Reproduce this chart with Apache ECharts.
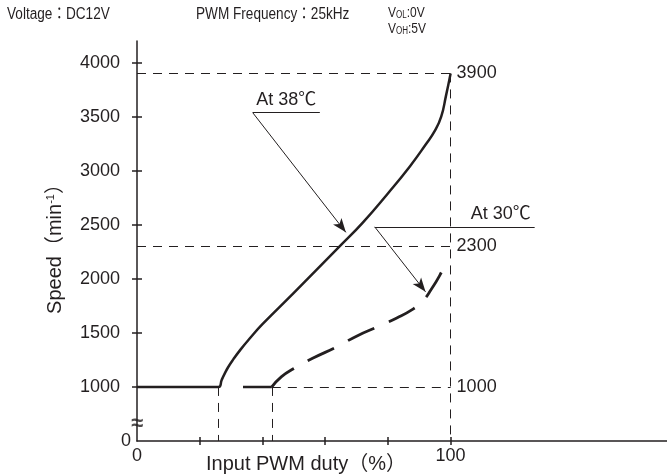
<!DOCTYPE html>
<html>
<head>
<meta charset="utf-8">
<script src="https://cdn.jsdelivr.net/npm/echarts@6/dist/echarts.min.js"></script>
<style>html,body{margin:0;padding:0;background:#fff}#c{width:667px;height:475px}</style>
</head>
<body>
<div id="c"></div>
<script>
// ---- data ----
const xTicks = [20, 40, 60, 80, 100];
const xLabels = [0, 100];
const yTicks = [1000, 1500, 2000, 2500, 3000, 3500, 4000];
const yLabelValues = [500, 1000, 1500, 2000, 2500, 3000, 3500, 4000]; // 500 shown as "0" (broken axis)
const curve38 = [[0,1000],[26,1000],[27,1065],[28,1125],[29,1180],[30.7,1255],[33,1345],[36,1450],[40,1580],[50,1870],[64.6,2300],[72,2520],[80,2790],[87,3040],[92,3240],[95,3370],[97,3500],[98.5,3690],[100,3900]];
const flat30 = [[33.8,1000],[43,1000]];
const curve30 = [[43,1000],[46,1093],[50,1170],[56,1265],[64,1375],[70,1470],[77,1560],[83,1640],[88,1720],[91,1790],[94,1910],[96.5,2030],[98.7,2160]];
const refValues = [3900, 2300, 1000];
const dutyMarks = [26, 43, 100];
const breakMark = [[0, 655]];
const label38 = 'At 38℃';
const label30 = 'At 30℃';

const INK = '#231f20';
const FONT = "'Liberation Sans', 'Noto Sans CJK JP', sans-serif";

const chart = echarts.init(document.getElementById('c'), null, {renderer: 'canvas'});
const dash = {color: INK, width: 1, type: [9, 7]};
const hdrRich = {v: {fontSize: 15, fontFamily: FONT, fill: INK, verticalAlign: 'bottom'}, s: {fontSize: 10, fontFamily: FONT, fill: INK, verticalAlign: 'bottom'}};

const option = {
  animation: false,
  backgroundColor: '#fff',
  textStyle: {fontFamily: FONT, color: INK},
  grid: {left: 137, right: 0, top: 41, bottom: 34, containLabel: false, outerBoundsMode: 'none'},
  graphic: [
    {type: 'text', x: 7, y: 7, scaleX: 0.85, style: {text: 'Voltage：DC12V', font: '16px ' + FONT, fill: INK}},
    {type: 'text', x: 196, y: 7, scaleX: 0.85, style: {text: 'PWM Frequency：25kHz', font: '16px ' + FONT, fill: INK}},
    {type: 'text', x: 388, y: 5, scaleX: 0.8, style: {text: '{v|V}{s|OL}{v|:0V}', fill: INK, rich: hdrRich}},
    {type: 'text', x: 388, y: 21, scaleX: 0.8, style: {text: '{v|V}{s|OH}{v|:5V}', fill: INK, rich: hdrRich}}
  ],
  xAxis: [
    {type: 'value', min: 0, max: 169, interval: 20,
     name: 'Input PWM duty（%）', nameLocation: 'middle', nameGap: 13, nameMoveOverlap: false,
     nameTextStyle: {fontSize: 20, color: INK, fontFamily: FONT, padding: [0, 192, 0, 0]},
     axisLine: {show: true, lineStyle: {color: INK, width: 1.5}},
     axisTick: {show: true, length: 4, customValues: xTicks, lineStyle: {color: INK, width: 1.5}},
     axisLabel: {show: true, customValues: xLabels, fontSize: 18, color: INK, margin: 6},
     splitLine: {show: false}},
    {type: 'value', min: 0, max: 169, interval: 20, position: 'bottom',
     axisLine: {show: false},
     axisTick: {show: true, inside: true, length: 4, customValues: xTicks, lineStyle: {color: INK, width: 1.5}},
     axisLabel: {show: false}, splitLine: {show: false}}
  ],
  yAxis: [
    {type: 'value', min: 500, max: 4200, interval: 500,
     name: '{a|Speed（min}{s|-1}{a|）}', nameLocation: 'middle', nameGap: 72, nameMoveOverlap: false,
     nameTextStyle: {color: INK, padding: [0, 6, 0, 0],
       rich: {a: {fontSize: 20, fontFamily: FONT, color: INK}, s: {fontSize: 11, fontFamily: FONT, color: INK, verticalAlign: 'top', padding: [0, 0, 9, 0]}}},
     axisLine: {show: true, lineStyle: {color: INK, width: 1.5}},
     axisTick: {show: true, length: 5, customValues: yTicks, lineStyle: {color: INK, width: 1.5}},
     axisLabel: {show: true, customValues: yLabelValues, margin: 6, color: INK, fontSize: 18,
       formatter: v => v === 500 ? '{z|0}' : '{n|' + v + '}',
       rich: {z: {fontSize: 18, color: INK}, n: {fontSize: 18, color: INK, padding: [0, 11, 0, 0]}}},
     splitLine: {show: false}},
    {type: 'value', min: 500, max: 4200, interval: 500, position: 'left',
     axisLine: {show: false},
     axisTick: {show: true, inside: true, length: 5, customValues: yTicks, lineStyle: {color: INK, width: 1.5}},
     axisLabel: {show: false}, splitLine: {show: false}}
  ],
  series: [
    {name: 'ref', type: 'line', data: [], silent: true,
     markLine: {silent: true, symbol: ['none', 'none'], animation: false,
       lineStyle: dash,
       label: {show: true, position: 'end', distance: 6, fontSize: 18, color: INK, fontFamily: FONT},
       data: [
         [{coord: [0, refValues[0]], label: {formatter: String(refValues[0])}}, {coord: [dutyMarks[2], refValues[0]]}],
         [{coord: [0, refValues[1]], label: {formatter: String(refValues[1])}}, {coord: [dutyMarks[2], refValues[1]]}],
         [{coord: [dutyMarks[1], refValues[2]], label: {formatter: String(refValues[2])}}, {coord: [dutyMarks[2], refValues[2]]}],
         [{coord: [dutyMarks[2], refValues[0]], label: {show: false}}, {coord: [dutyMarks[2], 500]}],
         [{coord: [dutyMarks[0], refValues[2]], label: {show: false}}, {coord: [dutyMarks[0], 500]}],
         [{coord: [dutyMarks[1], refValues[2]], label: {show: false}}, {coord: [dutyMarks[1], 500]}]
       ]}},
    {name: 'annot', type: 'line', data: [], silent: true,
     markLine: {silent: true, animation: false,
       lineStyle: {color: INK, width: 1, type: 'solid'},
       data: [
         [{coord: [36.9, 3537], symbol: 'none', label: {show: true, position: 'middle', formatter: label38, fontSize: 18, color: INK, fontFamily: FONT, distance: 4}}, {coord: [58.3, 3537], symbol: 'none'}],
         [{coord: [36.9, 3537], symbol: 'none', label: {show: false}}, {coord: [66.6, 2430], symbol: 'arrow', symbolSize: [8, 14]}],
         [{coord: [75.8, 2481], symbol: 'none', label: {show: true, position: 'insideEndTop', formatter: label30, fontSize: 18, color: INK, fontFamily: FONT, distance: 4}}, {coord: [126.8, 2481], symbol: 'none'}],
         [{coord: [75.8, 2481], symbol: 'none', label: {show: false}}, {coord: [92.0, 1880], symbol: 'arrow', symbolSize: [8, 14]}]
       ]}},
    {name: 'break', type: 'scatter', data: breakMark, silent: true, symbolSize: 1,
     itemStyle: {color: 'rgba(0,0,0,0)'}, z: 10,
     label: {show: true, position: 'inside', formatter: '≈', fontSize: 22, fontWeight: 'bold', color: INK, fontFamily: FONT}},
    {name: label38, type: 'line', data: curve38, smooth: true, showSymbol: false,
     lineStyle: {color: INK, width: 2.5}, z: 5},
    {name: '30flat', type: 'line', data: flat30, showSymbol: false,
     lineStyle: {color: INK, width: 2.5}, z: 5},
    {name: label30, type: 'line', data: curve30, smooth: true, showSymbol: false,
     lineStyle: {color: INK, width: 2.8, type: [29, 16]}, z: 5}
  ]
};
chart.setOption(option);
</script>
</body>
</html>
